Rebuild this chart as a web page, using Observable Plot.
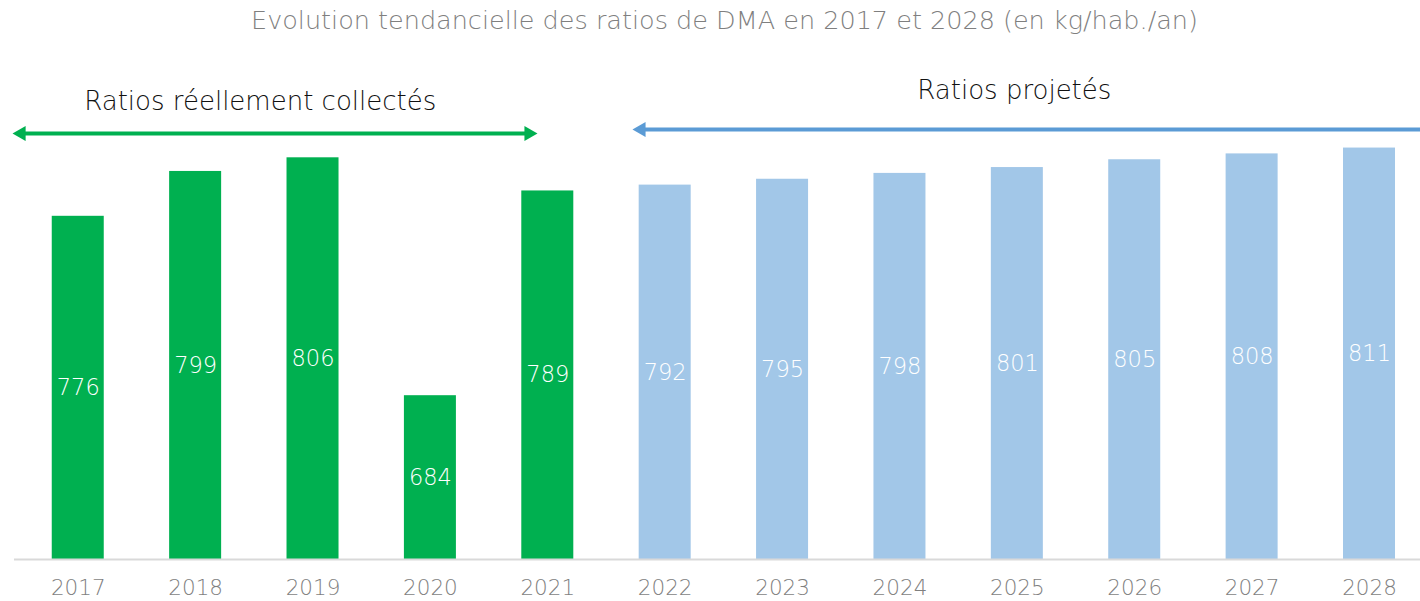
<!DOCTYPE html>
<html>
<head>
<meta charset="utf-8">
<script src="https://cdn.jsdelivr.net/npm/d3@7"></script>
<script src="https://cdn.jsdelivr.net/npm/@observablehq/plot@0.6"></script>
<style>
  html, body { margin: 0; padding: 0; background: #fff; }
  #chart svg { display: block; }
</style>
</head>
<body>
<div id="chart"></div>
<script>
const years = ["2017","2018","2019","2020","2021","2022","2023","2024","2025","2026","2027","2028"];
const values = [776, 799, 806, 684, 789, 792, 795, 798, 801, 805, 808, 811];
const kinds = ["réel","réel","réel","réel","réel","projeté","projeté","projeté","projeté","projeté","projeté","projeté"];
const title = "Evolution tendancielle des ratios de DMA en 2017 et 2028 (en kg/hab./an)";
const labelReal = "Ratios réellement collectés";
const labelProj = "Ratios projetés";
const yMin = 600, yMax = 820;

const data = years.map((y, i) => ({year: y, value: values[i], kind: kinds[i]}));
const colors = {"réel": "#00b050", "projeté": "#a2c7e8"};
const green = "#00b050", blue = "#5b9bd5";
const font = "'DejaVu Sans', sans-serif";
const yGreen = 818.5, yBlue = 820.5;

const chart = Plot.plot({
  width: 1420,
  height: 601,
  marginTop: 0,
  marginBottom: 42,
  marginLeft: 0,
  marginRight: 0,
  style: {fontFamily: font, background: "#fff"},
  x: {type: "band", domain: years, range: [19.05, 1427.7], paddingInner: 0.557, paddingOuter: 0.2785, round: false},
  y: {domain: [yMin, yMax], range: [559, 130], axis: null},
  marks: [
    Plot.barY(data, {x: "year", y1: yMin, y2: "value", fill: d => colors[d.kind]}),
    Plot.ruleY([yMin], {insetLeft: 14, stroke: "#d9d9d9", strokeWidth: 2}),
    Plot.text(data, {x: "year", y: d => (d.value + yMin) / 2, text: d => String(d.value), fill: "white", fontSize: 22.5, fontWeight: 200}),
    Plot.axisX({tickSize: 0, tickPadding: 20, fontSize: 21.5, fontWeight: 200, fill: "#7f7f7f", label: null}),
    Plot.text([title], {frameAnchor: "top", dx: 14, dy: 10, fontSize: 25.5, fontWeight: 200, fill: "#7f7f7f"}),
    Plot.text([labelReal], {x: () => "2017", y: () => 835, textAnchor: "start", dx: 6, fontSize: 26, fontWeight: 300, fill: "#111"}),
    Plot.text([labelProj], {x: () => "2025", y: () => 840.5, dx: -3, fontSize: 26, fontWeight: 300, fill: "#111"}),
    // arrow shafts
    Plot.arrow([{a: "2017", b: "2021"}], {x1: "a", x2: "b", y1: () => yGreen, y2: () => yGreen, insetStart: -57, insetEnd: 19, headLength: 0, stroke: green, strokeWidth: 4}),
    Plot.arrow([{a: "2022", b: "2028"}], {x1: "a", x2: "b", y1: () => yBlue, y2: () => yBlue, insetStart: -24, insetEnd: -52, headLength: 0, stroke: blue, strokeWidth: 4}),
    // arrow heads
    Plot.dot([{x: "2017", dir: -90}], {x: "x", y: () => yGreen, symbol: "triangle", r: 5.6, fill: green, stroke: null, rotate: "dir", dx: -57}),
    Plot.dot([{x: "2021", dir: 90}], {x: "x", y: () => yGreen, symbol: "triangle", r: 5.6, fill: green, stroke: null, rotate: "dir", dx: -19}),
    Plot.dot([{x: "2022", dir: -90}], {x: "x", y: () => yBlue, symbol: "triangle", r: 5.6, fill: blue, stroke: null, rotate: "dir", dx: -24})
  ]
});
document.getElementById("chart").append(chart);
</script>
</body>
</html>
